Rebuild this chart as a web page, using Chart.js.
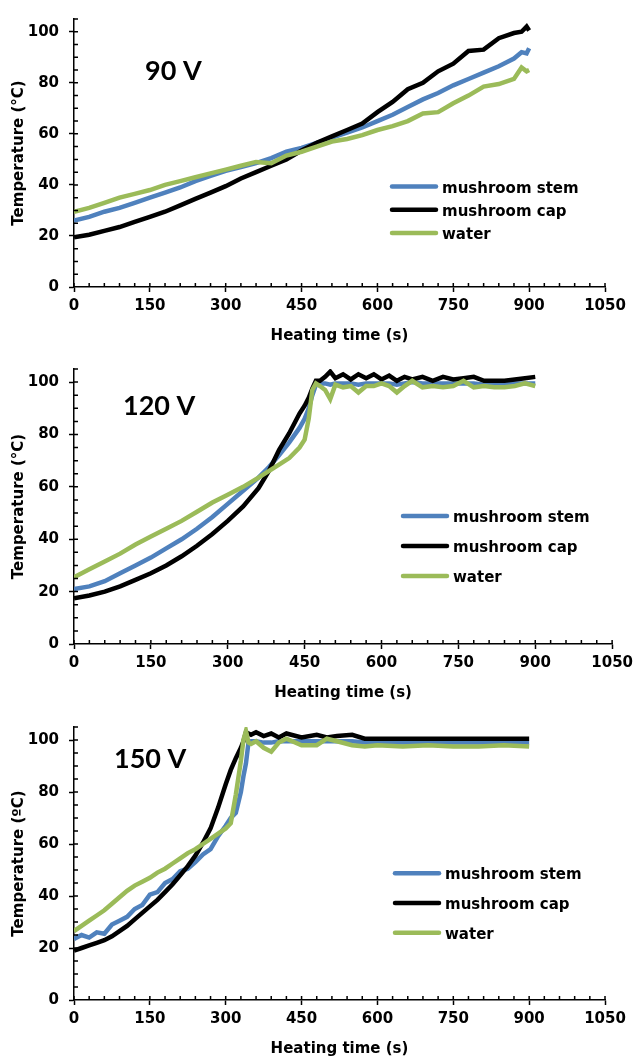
<!DOCTYPE html>
<html>
<head>
<meta charset="utf-8">
<script src="https://cdn.jsdelivr.net/npm/chart.js@4/dist/chart.umd.min.js"></script>
<style>
  body { margin: 0; background: #fff; width: 638px; height: 1062px; overflow: hidden; position: relative; }
  canvas { position: absolute; left: 0; }
</style>
</head>
<body>
<canvas id="c90" width="638" height="353" style="top:0px"></canvas>
<canvas id="c120" width="638" height="360" style="top:350px"></canvas>
<canvas id="c150" width="638" height="358" style="top:708px"></canvas>
<script>
// axis ticks
var xTicks = [0, 150, 300, 450, 600, 750, 900, 1050];
var yTicks = [0, 20, 40, 60, 80, 100];
var seriesNames = ['mushroom stem', 'mushroom cap', 'water'];

// 90 V
var t90 = [0, 30, 60, 90, 120, 150, 180, 210, 240, 270, 300, 330, 360, 390, 420, 450, 480, 510, 540, 570, 600, 630, 660, 690, 720, 750, 780, 810, 840, 870, 885, 895, 900];
var stem90 = [26, 27.5, 29.5, 31, 33, 35, 37, 39, 41.5, 43.5, 45.5, 47, 48.5, 50.5, 53, 54.5, 56.5, 58.5, 60.5, 62.5, 65, 67.5, 70.5, 73.5, 76, 79, 81.5, 84, 86.5, 89.5, 92, 91.5, 93.5];
var cap90 = [19.5, 20.5, 22, 23.5, 25.5, 27.5, 29.5, 32, 34.5, 37, 39.5, 42.5, 45, 47.5, 50, 53.5, 56.5, 59, 61.5, 64, 68.5, 72.5, 77.5, 80, 84.5, 87.5, 92.5, 93, 97.5, 99.5, 100, 102, 100.5];
var water90 = [29.5, 31, 33, 35, 36.5, 38, 40, 41.5, 43, 44.5, 46, 47.5, 49, 48.5, 51.5, 53, 55, 57, 58, 59.5, 61.5, 63, 65, 68, 68.5, 72, 75, 78.5, 79.5, 81.5, 86, 84.5, 85];

// 120 V
var t120 = [0, 30, 60, 90, 120, 150, 180, 210, 240, 270, 300, 330, 360, 380, 400, 420, 440, 450, 458, 465, 472, 480, 490, 500, 510, 525, 540, 555, 570, 585, 600, 615, 630, 645, 660, 680, 700, 720, 740, 760, 780, 800, 820, 840, 860, 880, 900];
var stem120 = [21, 22, 24, 27, 30, 33, 36.5, 40, 44, 48.5, 53.5, 58.5, 63.5, 67.5, 72, 77, 82.5, 86, 90, 95, 99, 99.5, 99.5, 99, 99.5, 99.5, 99.5, 99, 99.5, 99.5, 99.5, 99.5, 99, 99.5, 100, 99.5, 99.5, 99.5, 99.5, 99.5, 99.5, 99, 99, 99.5, 99.5, 99.5, 99.5];
var cap120 = [17.5, 18.5, 20, 22, 24.5, 27, 30, 33.5, 37.5, 42, 47, 52.5, 59.5, 66, 74, 80.5, 88, 91, 94, 97.5, 100.5, 100.5, 102, 104, 101.5, 103, 101, 103, 101.5, 103, 101, 102.5, 100.5, 102, 101, 102, 100.5, 102, 101, 101.5, 102, 100.5, 100.5, 100.5, 101, 101.5, 102];
var water120 = [25.5, 28.5, 31.5, 34.5, 38, 41, 44, 47, 50.5, 54, 57, 60, 63.5, 66, 68.5, 71, 75, 78, 86, 97, 99.5, 98.5, 97, 93.5, 99, 98, 98.5, 96, 98.5, 98.5, 99.5, 98.5, 96, 98.5, 100.5, 98, 98.5, 98, 98.5, 100.5, 98, 98.5, 98, 98, 98.5, 99.5, 98.5];

// 150 V
var t150 = [0, 15, 30, 45, 60, 75, 90, 105, 120, 135, 150, 165, 180, 195, 210, 225, 240, 255, 270, 285, 300, 310, 320, 330, 335, 340, 345, 350, 360, 375, 390, 405, 420, 450, 480, 500, 520, 550, 575, 600, 650, 700, 750, 800, 850, 900];
var stem150 = [23.5, 25, 24, 26, 25.5, 29, 30.5, 32, 35, 36.5, 40.5, 41.5, 45, 46.5, 49.5, 50.5, 53, 56, 58, 63, 67, 70, 72, 80, 86, 91, 99, 99.5, 99.5, 99, 99, 99.5, 99.5, 99.5, 99.5, 99.5, 99.5, 99.5, 99, 99, 99, 99, 99, 99, 99, 99];
var cap150 = [19, 20, 21, 22, 23, 24.5, 26.5, 28.5, 31, 33.5, 36, 38.5, 41.5, 44.5, 48, 51.5, 55.5, 60.5, 66, 74, 83, 88.5, 93, 97, 99.5, 103, 102.5, 102, 103, 101.5, 102.5, 101, 102.5, 101, 102, 101, 101.5, 102, 100.5, 100.5, 100.5, 100.5, 100.5, 100.5, 100.5, 100.5];
var water150 = [26.5, 28.5, 30.5, 32.5, 34.5, 37, 39.5, 42, 44, 45.5, 47, 49, 50.5, 52.5, 54.5, 56.5, 58, 60, 62, 64, 66, 68, 79, 92, 100, 103.5, 99, 98.5, 99.5, 97, 95.5, 99, 100.5, 98, 98, 100.5, 99.5, 98, 97.5, 98, 97.5, 98, 97.5, 97.5, 98, 97.5];

Chart.defaults.font.family = '"DejaVu Sans", sans-serif';
Chart.defaults.font.size = 15;
Chart.defaults.font.weight = 'bold';
Chart.defaults.color = '#000';

// minor ticks, voltage label and legend drawn over the plot
var decor = {
  id: 'decor',
  afterDraw: function(chart, args, o) {
    var ctx = chart.ctx, xs = chart.scales.x, ys = chart.scales.y, a = chart.chartArea;
    ctx.save();
    ctx.strokeStyle = '#000';
    ctx.lineWidth = 1.5;
    ctx.beginPath();
    for (var v = 0; v <= 1050; v += 30) {
      var px = xs.getPixelForValue(v);
      ctx.moveTo(px, a.bottom);
      ctx.lineTo(px, a.bottom - 4);
    }
    for (var w = 5; w <= 105; w += 5) {
      var py = ys.getPixelForValue(w);
      ctx.moveTo(a.left, py);
      ctx.lineTo(a.left + 4, py);
    }
    ctx.stroke();

    ctx.fillStyle = '#000';
    ctx.font = 'bold 27px Lato';
    ctx.fillText(o.label, o.labelX, o.labelY);

    ctx.font = 'bold 15px "DejaVu Sans"';
    ctx.lineCap = 'round';
    ctx.lineWidth = 4.5;
    chart.data.datasets.forEach(function(ds, i) {
      var y = o.legY + i * o.gap;
      ctx.strokeStyle = ds.borderColor;
      ctx.beginPath();
      ctx.moveTo(o.legX, y);
      ctx.lineTo(o.legX + 44, y);
      ctx.stroke();
      ctx.fillText(ds.label, o.legX + 50, y + 6);
    });
    ctx.restore();
  }
};

function pts(times, vals) {
  return times.map(function(t, i) { return {x: t, y: vals[i]}; });
}

function makeChart(id, times, stem, cap, water, yTitle, pad, deco) {
  var colors = ['#4F81BD', '#000000', '#9BBB59'];
  var sets = [stem, cap, water];
  return new Chart(document.getElementById(id), {
    type: 'line',
    data: {
      datasets: sets.map(function(vals, i) {
        return {
          label: seriesNames[i],
          data: pts(times, vals),
          borderColor: colors[i],
          borderWidth: 4.5,
          pointRadius: 0,
          tension: 0,
          fill: false,
          order: 3 - i
        };
      })
    },
    plugins: [decor],
    options: {
      responsive: false,
      animation: false,
      layout: { padding: { top: pad.top, right: pad.right, bottom: 0, left: 0 } },
      plugins: {
        legend: { display: false },
        tooltip: { enabled: false },
        decor: deco
      },
      scales: {
        x: {
          type: 'linear',
          min: 0,
          max: 1050,
          afterBuildTicks: function(s) { s.ticks = xTicks.map(function(v) { return {value: v}; }); },
          afterFit: function(s) { s.height = 66; },
          ticks: { padding: 5, maxRotation: 0, autoSkip: false, callback: function(v) { return String(v); } },
          grid: { drawOnChartArea: false, tickLength: 5, tickColor: '#000', tickWidth: 1.5 },
          border: { color: '#000', width: 1.5 },
          title: { display: true, text: 'Heating time (s)', padding: { top: 0, bottom: 8 } }
        },
        y: {
          min: 0,
          max: 105,
          afterBuildTicks: function(s) { s.ticks = yTicks.map(function(v) { return {value: v}; }); },
          afterFit: function(s) { s.width = 74; },
          ticks: { padding: 10 },
          grid: { drawOnChartArea: false, tickLength: 5, tickColor: '#000', tickWidth: 1.5 },
          border: { color: '#000', width: 1.5 },
          title: { display: true, text: yTitle, padding: { top: 10, bottom: 0 } }
        }
      }
    }
  });
}

makeChart('c90', t90, stem90, cap90, water90, 'Temperature (°C)',
  { top: 11, right: 33 },
  { label: '90 V', labelX: 145, labelY: 80, legX: 392, legY: 186.5, gap: 23.3 });
makeChart('c120', t120, stem120, cap120, water120, 'Temperature (°C)',
  { top: 17, right: 23 },
  { label: '120 V', labelX: 123, labelY: 65, legX: 403, legY: 166, gap: 30 });
makeChart('c150', t150, stem150, cap150, water150, 'Temperature (ºC)',
  { top: 15.5, right: 33 },
  { label: '150 V', labelX: 114, labelY: 60, legX: 395, legY: 165.3, gap: 29.7 });
</script>
</body>
</html>
